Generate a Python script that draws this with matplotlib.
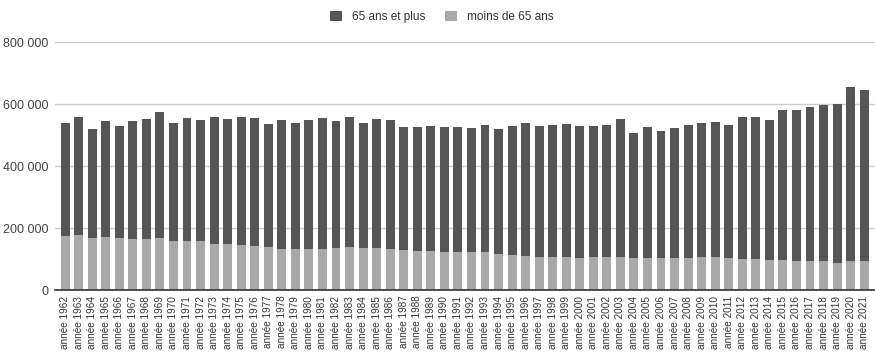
import numpy as np
import matplotlib.pyplot as plt
from matplotlib.ticker import FuncFormatter

plt.rcParams['font.family'] = ['Liberation Sans', 'DejaVu Sans']

years = list(range(1962, 2022))
labels = ['année ' + str(y) for y in years]

# total deaths per year and the share under 65
total = [540000, 559000, 519000, 545000, 529000, 544000, 552000, 574000, 540000, 556000,
         548000, 558000, 552000, 559000, 556000, 536000, 548000, 539000, 548000, 555000,
         544000, 559000, 540000, 552000, 548000, 526000, 526000, 529000, 526000, 526000,
         522000, 533000, 519000, 529000, 538000, 529000, 533000, 537000, 529000, 529000,
         533000, 552000, 506000, 526000, 514000, 522000, 533000, 538000, 541000, 533000,
         559000, 559000, 548000, 581000, 581000, 591000, 596000, 600000, 654000, 644000]
moins_65 = [174000, 178000, 168000, 171000, 168000, 165000, 165000, 168000, 157000, 157000,
            157000, 148000, 148000, 145000, 141000, 138000, 133000, 133000, 132000, 132000,
            137000, 140000, 137000, 137000, 132000, 128000, 125000, 125000, 122000, 122000,
            122000, 122000, 118000, 114000, 111000, 108000, 108000, 108000, 103000, 108000,
            108000, 108000, 103000, 103000, 103000, 103000, 103000, 108000, 108000, 103000,
            100000, 100000, 97000, 97000, 94000, 94000, 94000, 89000, 94000, 94000]
plus_65 = [t - m for t, m in zip(total, moins_65)]

dark = '#555555'
light = '#a9a9a9'

fig = plt.figure(figsize=(8.75, 3.56), dpi=100)
ax = fig.add_axes([0.063, 0.185, 0.937, 0.697])

x = np.arange(len(years))
ax.bar(x, moins_65, width=0.66, color=light, label='moins de 65 ans', zorder=2)
ax.bar(x, plus_65, width=0.66, bottom=moins_65, color=dark, label='65 ans et plus', zorder=2)

ax.set_xlim(-0.74, 59.8)
ax.set_ylim(0, 800000)
ax.set_yticks([0, 200000, 400000, 600000, 800000])
ax.yaxis.set_major_formatter(FuncFormatter(lambda v, p: f'{int(v):,}'.replace(',', ' ')))
ax.grid(axis='y', color='#cccccc', linewidth=1, zorder=0)

ax.set_xticks(x)
ax.set_xticklabels(labels, rotation=90, fontsize=7.2, color='#333333')
ax.tick_params(axis='y', length=0, pad=5, labelsize=9, labelcolor='#444444')
ax.tick_params(axis='x', length=0, pad=4)

for side in ['top', 'right', 'left']:
    ax.spines[side].set_visible(False)
ax.spines['bottom'].set_color('#333333')
ax.spines['bottom'].set_linewidth(1.2)
ax.spines['bottom'].set_zorder(3)

handles, names = ax.get_legend_handles_labels()
fig.legend(handles[::-1], names[::-1], loc='upper center', bbox_to_anchor=(0.505, 1.0),
           ncol=2, frameon=False, fontsize=8.5, handlelength=1.0, handleheight=1.0,
           columnspacing=1.6, handletextpad=0.9, labelcolor='#333333')

fig.savefig('out.png', dpi=100)
